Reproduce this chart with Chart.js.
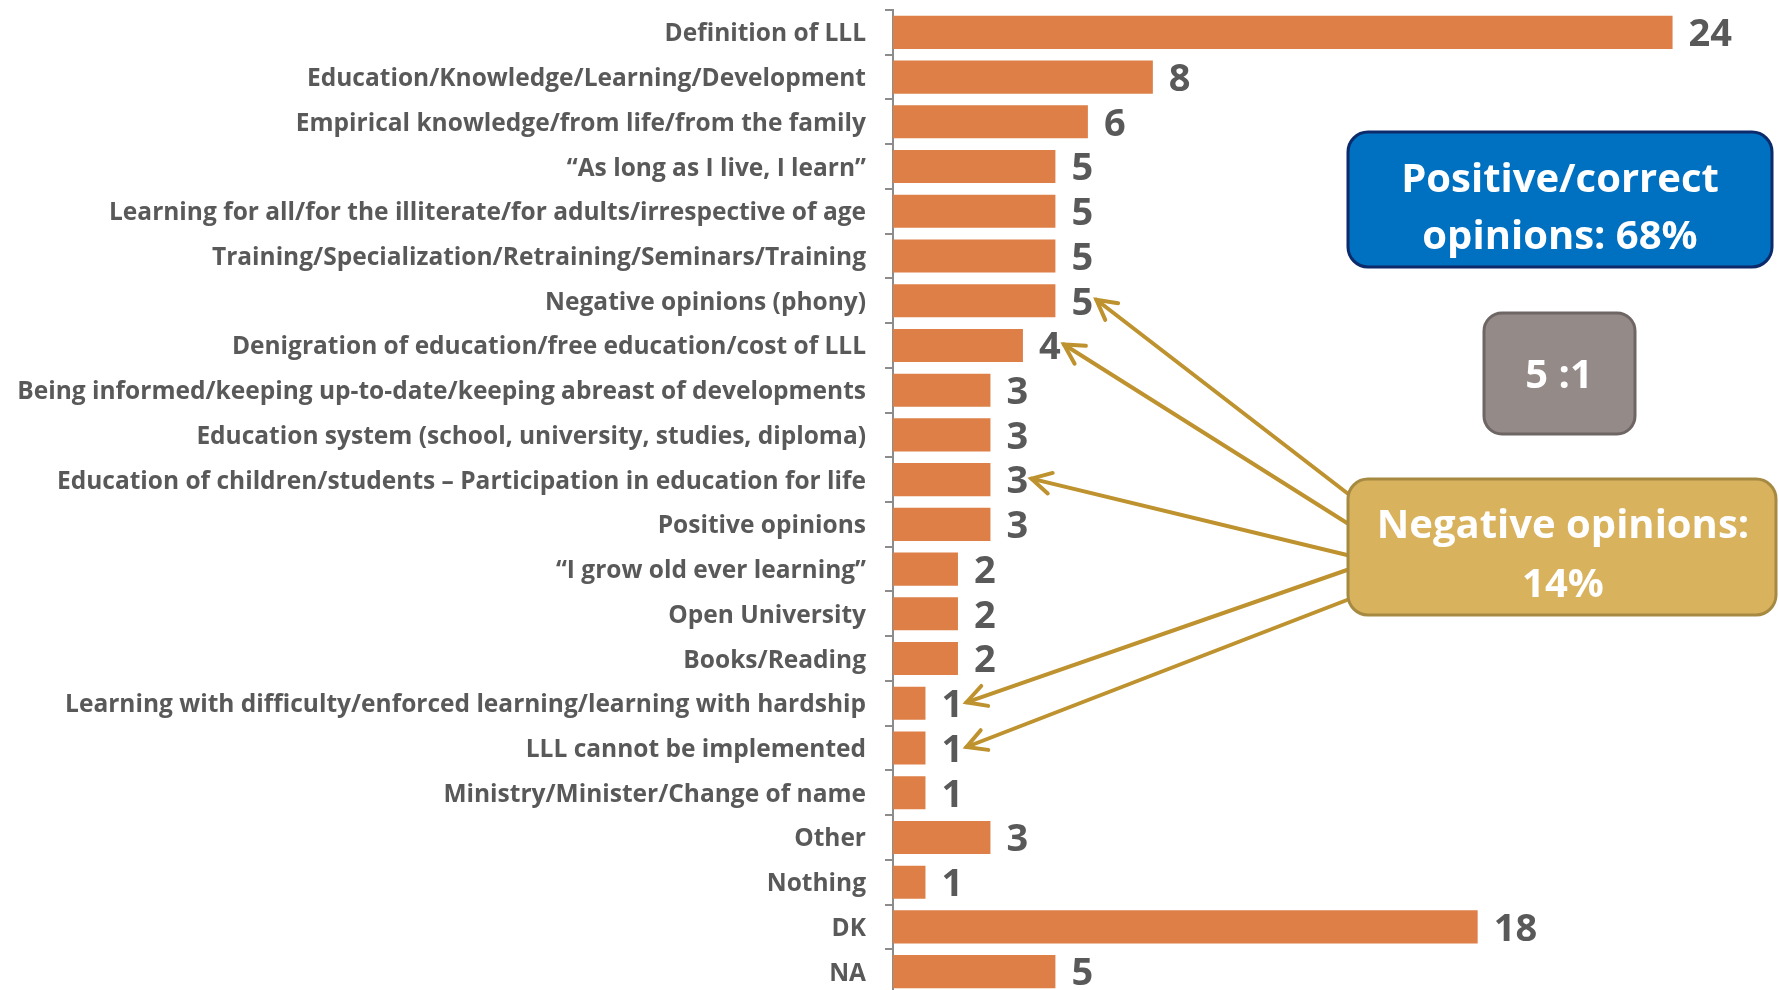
<!DOCTYPE html>
<html lang="en">
  <head>
    <meta charset="UTF-8" />
    <script src="https://cdn.jsdelivr.net/npm/chart.js@4.4.1/dist/chart.umd.min.js"></script>
    <style>
      body { margin: 0; background: #fff; overflow: hidden; }
      #wrap { width: 1779px; height: 994px; position: relative; }
    </style>
  </head>
  <body>
    <div id="wrap">
      <canvas id="myChart"></canvas>
    </div>

    <script>
      // categories, top to bottom
      const categories = [
        "Definition of LLL",
        "Education/Knowledge/Learning/Development",
        "Empirical knowledge/from life/from the family",
        "\u201CAs long as I live, I learn\u201D",
        "Learning for all/for the illiterate/for adults/irrespective of age",
        "Training/Specialization/Retraining/Seminars/Training",
        "Negative opinions (phony)",
        "Denigration of education/free education/cost of LLL",
        "Being informed/keeping up-to-date/keeping abreast of developments",
        "Education system (school, university, studies, diploma)",
        "Education of children/students \u2013 Participation in education for life",
        "Positive opinions",
        "\u201CI grow old ever learning\u201D",
        "Open University",
        "Books/Reading",
        "Learning with difficulty/enforced learning/learning with hardship",
        "LLL cannot be implemented",
        "Ministry/Minister/Change of name",
        "Other",
        "Nothing",
        "DK",
        "NA",
      ];
      // number of mentions
      const counts = [24, 8, 6, 5, 5, 5, 5, 4, 3, 3, 3, 3, 2, 2, 2, 1, 1, 1, 3, 1, 18, 5];
      // rows counted as negative opinions (arrows point at them)
      const negativeRows = [6, 7, 10, 15, 16];

      const labelFont = "'Open Sans', Lato, sans-serif";

      // value labels + annotation boxes and arrows
      const extras = {
        id: "extras",
        afterDatasetsDraw(chart) {
          const ctx = chart.ctx;
          const x = chart.scales.x;
          const y = chart.scales.y;

          ctx.save();
          ctx.fillStyle = "#595959";
          ctx.font = "bold 38px " + labelFont;
          ctx.textAlign = "left";
          ctx.textBaseline = "middle";
          counts.forEach((v, i) => {
            ctx.fillText(String(v), x.getPixelForValue(v) + 16, y.getPixelForValue(i) + 3);
          });
          ctx.restore();

          // arrows from the negative box
          const starts = [493, 523, 555, 570, 600];
          ctx.save();
          ctx.strokeStyle = "#BE922E";
          ctx.lineWidth = 4;
          ctx.lineCap = "round";
          negativeRows.forEach((row, k) => {
            const tx = x.getPixelForValue(counts[row]) + 41;
            const ty = y.getPixelForValue(row) - 1;
            const sx = 1347, sy = starts[k];
            ctx.beginPath();
            ctx.moveTo(sx, sy);
            ctx.lineTo(tx, ty);
            ctx.stroke();
            const ang = Math.atan2(sy - ty, sx - tx);
            const len = 22, spread = 0.5;
            ctx.beginPath();
            ctx.moveTo(tx + len * Math.cos(ang - spread), ty + len * Math.sin(ang - spread));
            ctx.lineTo(tx, ty);
            ctx.lineTo(tx + len * Math.cos(ang + spread), ty + len * Math.sin(ang + spread));
            ctx.stroke();
          });
          ctx.restore();

          const box = (x0, y0, w, h, r, fill, stroke, lines, cx, ys, size) => {
            ctx.save();
            ctx.beginPath();
            ctx.roundRect(x0, y0, w, h, r);
            ctx.fillStyle = fill;
            ctx.fill();
            ctx.lineWidth = 3;
            ctx.strokeStyle = stroke;
            ctx.stroke();
            ctx.fillStyle = "#fff";
            ctx.font = "bold " + size + "px " + labelFont;
            ctx.textAlign = "center";
            ctx.textBaseline = "middle";
            lines.forEach((t, i) => ctx.fillText(t, cx, ys[i]));
            ctx.restore();
          };

          box(1348, 132, 424, 135, 20, "#0070C0", "#0D2A6B",
            ["Positive/correct", "opinions: 68%"], 1560, [181, 238], 40);
          box(1484, 313, 151, 121, 18, "#948A87", "#6E6664",
            ["5 :1"], 1559, [377], 40);
          box(1348, 479, 428, 136, 20, "#D9B25E", "#A78A42",
            ["Negative opinions:", "14%"], 1563, [527, 586], 40);
        },
      };

      const ctx = document.getElementById("myChart").getContext("2d");
      const myChart = new Chart(ctx, {
        type: "bar",
        data: {
          labels: categories,
          datasets: [
            {
              data: counts,
              backgroundColor: "#DD7F46",
              barPercentage: 0.74,
              categoryPercentage: 1,
            },
          ],
        },
        options: {
          indexAxis: "y",
          responsive: true,
          maintainAspectRatio: false,
          animation: false,
          layout: { padding: { top: 10, right: 9, bottom: 0, left: 0 } },
          plugins: {
            legend: { display: false },
            tooltip: { enabled: false },
          },
          scales: {
            x: {
              display: false,
              min: 0,
              max: 27,
            },
            y: {
              afterFit: (scale) => {
                scale.width = 893;
                scale.paddingTop = 0;
                scale.paddingBottom = 0;
              },
              border: { display: true, color: "#8C8C8C", width: 2 },
              grid: {
                drawOnChartArea: false,
                drawTicks: true,
                tickLength: 8,
                color: "#8C8C8C",
                lineWidth: 2,
              },
              ticks: {
                padding: 19,
                labelOffset: 2,
                color: "#595959",
                font: { family: labelFont, size: 24.5, weight: "bold" },
                autoSkip: false,
              },
            },
          },
        },
        plugins: [extras],
      });
    </script>
  </body>
</html>
